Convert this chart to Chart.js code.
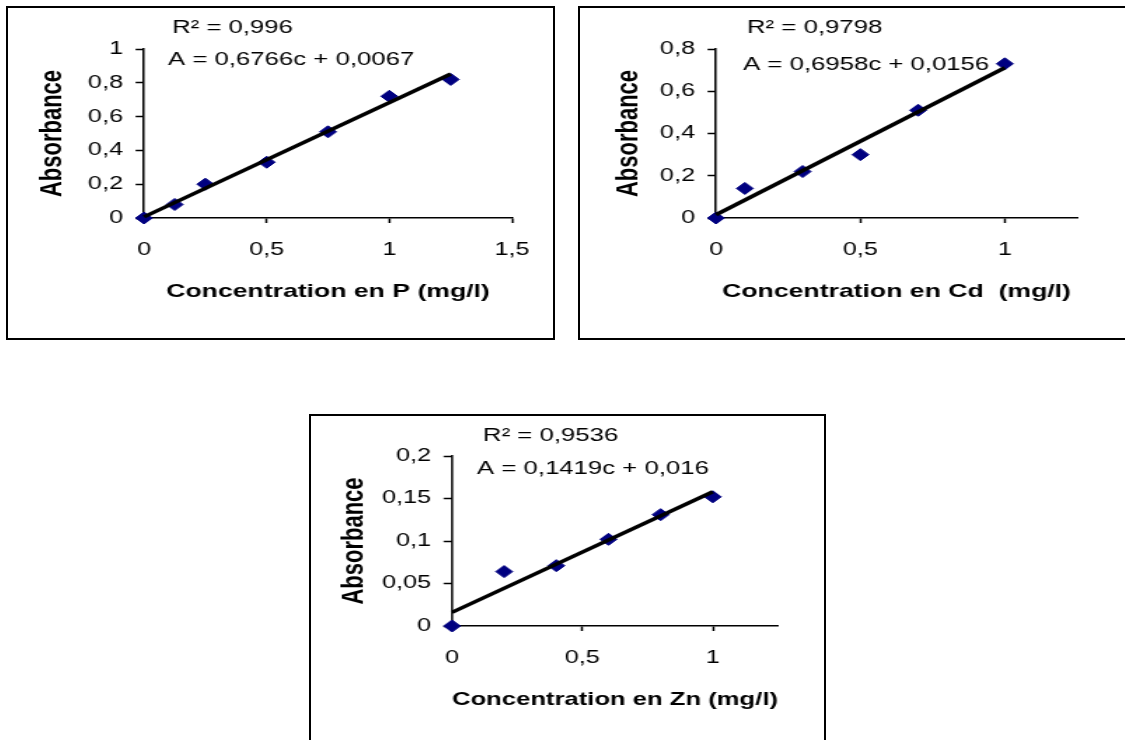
<!DOCTYPE html>
<html>
<head>
<meta charset="utf-8">
<title>Courbes d'étalonnage</title>
<script src="https://cdn.jsdelivr.net/npm/chart.js@4.4.1/dist/chart.umd.min.js"></script>
<style>
    html, body { margin: 0; padding: 0; background: #fff; overflow: hidden; }
    body { width: 1125px; height: 740px; position: relative; }
    .box { position: absolute; box-sizing: border-box; border: 2px solid #000; }
    canvas { position: absolute; transform-origin: 0 0; }
</style>
</head>
<body>
<script>
// =======================
// Data
// =======================
const concP = [0, 0.125, 0.25, 0.5, 0.75, 1, 1.25];
const absP = [0, 0.08, 0.2, 0.33, 0.51, 0.72, 0.82];
const trendConcP = [0, 1.25];
const trendAbsP = [0.0067, 0.8525];
const notesP = ["R² = 0,996", "A = 0,6766c + 0,0067"];

const concCd = [0, 0.1, 0.3, 0.5, 0.7, 1];
const absCd = [0, 0.14, 0.22, 0.30, 0.51, 0.73];
const trendConcCd = [0, 1];
const trendAbsCd = [0.0156, 0.7114];
const notesCd = ["R² = 0,9798", "A = 0,6958c + 0,0156"];

const concZn = [0, 0.2, 0.4, 0.6, 0.8, 1];
const absZn = [0, 0.064, 0.071, 0.102, 0.131, 0.152];
const trendConcZn = [0, 1];
const trendAbsZn = [0.016, 0.1579];
const notesZn = ["R² = 0,9536", "A = 0,1419c + 0,016"];

const yTitle = "Absorbance";
const xTitles = ["Concentration en P (mg/l)", "Concentration en Cd  (mg/l)", "Concentration en Zn (mg/l)"];

// =======================
// Layout (page pixels)
// =======================
const STRETCH = 1.4;   // the original picture is stretched sideways
const FONT = "'Liberation Sans', Arial, sans-serif";
Chart.defaults.font.family = FONT;
Chart.defaults.color = "#000";

const panels = [
    { box: [6, 6, 549, 334], plot: [144, 49, 512, 218], yTitleX: 53,
      xs: concP, ys: absP, tx: trendConcP, ty: trendAbsP, notes: notesP, xTitle: xTitles[0],
      xMax: 1.5, yMax: 1, yStep: 0.2, noteAt: [[28, -16], [24, 16]] },
    { box: [578, 6, 560, 334], plot: [716, 49, 1077, 218], yTitleX: 629,
      xs: concCd, ys: absCd, tx: trendConcCd, ty: trendAbsCd, notes: notesCd, xTitle: xTitles[1],
      xMax: 1.25, yMax: 0.8, yStep: 0.2, noteAt: [[31, -16], [27, 21]] },
    { box: [309, 414, 517, 340], plot: [452, 456, 778, 626], yTitleX: 355,
      xs: concZn, ys: absZn, tx: trendConcZn, ty: trendAbsZn, notes: notesZn, xTitle: xTitles[2],
      xMax: 1.25, yMax: 0.2, yStep: 0.05, noteAt: [[31, -15], [25, 18]] }
];

// =======================
// Text drawn above the plot (R² and equation)
// =======================
const notesPlugin = {
    id: "notes",
    afterDraw(chart, args, opts) {
        const { ctx, chartArea } = chart;
        ctx.save();
        ctx.font = "18.4px " + FONT;
        ctx.fillStyle = "#000";
        ctx.textBaseline = "alphabetic";
        opts.items.forEach(it => {
            ctx.fillText(it.text, chartArea.left + it.dx / STRETCH, chartArea.top + it.dy);
        });
        ctx.restore();
    }
};

const comma = v => String(v).replace(".", ",");

function makeChart(p) {
    const [bl, bt, bw, bh] = p.box;
    const box = document.createElement("div");
    box.className = "box";
    box.style.left = bl + "px";
    box.style.top = bt + "px";
    box.style.width = bw + "px";
    box.style.height = bh + "px";
    document.body.appendChild(box);

    const left = bl + 2, top = bt + 2, realW = bw - 4, h = bh - 4;
    const w = Math.round(realW / STRETCH);
    const canvas = document.createElement("canvas");
    canvas.width = w;
    canvas.height = h;
    canvas.style.left = left + "px";
    canvas.style.top = top + "px";
    canvas.style.transform = "scaleX(" + STRETCH + ")";
    document.body.appendChild(canvas);

    const [pl, pt, pr, pb] = p.plot;
    const yAxisW = (pl - left) / STRETCH;
    const xAxisH = top + h - pb;
    const padRight = w - (pr - left) / STRETCH;

    const xFont = { size: 19, weight: "bold" };
    const yFont = { size: 22, weight: "bold" };

    new Chart(canvas, {
        type: "scatter",
        data: {
            datasets: [
                {
                    data: p.tx.map((x, i) => ({ x: x, y: p.ty[i] })),
                    showLine: true,
                    borderColor: "#000",
                    borderWidth: 3.5,
                    pointRadius: 0,
                    clip: false
                },
                {
                    data: p.xs.map((x, i) => ({ x: x, y: p.ys[i] })),
                    pointStyle: "rectRot",
                    pointRadius: 6,
                    backgroundColor: "#000080",
                    borderColor: "#000080",
                    borderWidth: 1,
                    clip: false
                }
            ]
        },
        options: {
            responsive: false,
            animation: false,
            devicePixelRatio: 1,
            events: [],
            layout: { padding: { top: pt - top, right: padRight, left: 0, bottom: 0 } },
            plugins: {
                legend: { display: false },
                tooltip: { enabled: false },
                notes: {
                    items: p.notes.map((t, i) => ({ text: t, dx: p.noteAt[i][0], dy: p.noteAt[i][1] }))
                }
            },
            scales: {
                x: {
                    type: "linear",
                    min: 0,
                    max: p.xMax,
                    bounds: "data",
                    ticks: {
                        stepSize: 0.5,
                        includeBounds: false,
                        callback: comma,
                        font: { size: 18 },
                        color: "#000",
                        padding: 16,
                        maxRotation: 0,
                        autoSkip: false
                    },
                    grid: { drawOnChartArea: false, drawTicks: true, tickLength: 5, tickWidth: 1.5, tickColor: "#000" },
                    border: { color: "#000", width: 1.5 },
                    title: {
                        display: true,
                        text: p.xTitle,
                        font: xFont,
                        color: "#000",
                        padding: { top: 0, bottom: xAxisH - 74 - 19 * 0.6 }
                    },
                    afterFit: s => { s.height = xAxisH; }
                },
                y: {
                    type: "linear",
                    min: 0,
                    max: p.yMax,
                    bounds: "data",
                    ticks: {
                        stepSize: p.yStep,
                        callback: comma,
                        font: { size: 18 },
                        color: "#000",
                        padding: 9
                    },
                    grid: { drawOnChartArea: false, drawTicks: true, tickLength: 6, tickWidth: 1.5, tickColor: "#000" },
                    border: { color: "#000", width: 1.5 },
                    title: {
                        display: true,
                        text: yTitle,
                        font: yFont,
                        color: "#000",
                        padding: { top: (p.yTitleX - left) / STRETCH - 22 * 0.6, bottom: 0 }
                    },
                    afterFit: s => { s.width = yAxisW; }
                }
            }
        },
        plugins: [notesPlugin]
    });
}

panels.forEach(makeChart);
</script>
</body>
</html>
